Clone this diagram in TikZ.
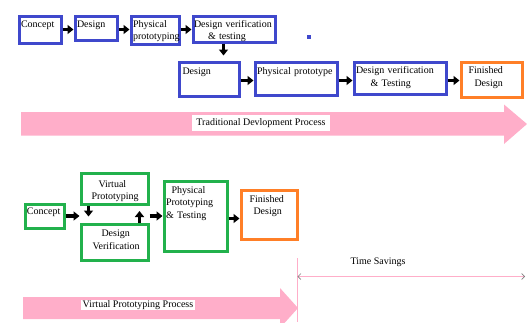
\documentclass[tikz,border=0pt]{standalone}
\usepackage{fontspec}
\setmainfont{Liberation Serif}
\usepackage{xcolor}
\usepackage{tikz}
\usetikzlibrary{arrows.meta, positioning}

\definecolor{boxblue}{RGB}{63,72,204}
\definecolor{boxgreen}{RGB}{34,177,76}
\definecolor{boxorange}{RGB}{255,127,39}
\definecolor{flowpink}{RGB}{255,174,201}

\begin{document}
\begin{tikzpicture}[
    x=1pt, y=-1pt,
    font=\fontsize{10}{12.5}\selectfont,
    block/.style={rectangle, draw, line width=3pt, anchor=north west, inner xsep=2pt, inner ysep=0pt, align=left, text height=12pt},
    tblock/.style={block, draw=boxblue},
    vblock/.style={block, draw=boxgreen},
    fblock/.style={block, draw=boxorange},
    arrow/.style={-{Triangle[length=6pt,width=9pt]}, line width=3.5pt},
    process/.style={fill=flowpink},
    banner/.style={fill=white, inner xsep=4pt, inner ysep=3pt}
]
\useasboundingbox (0,0) rectangle (527,322);
\clip (0,0) rectangle (527,322);

% Traditional process: first attempt
\node[tblock, text width=38pt, text height=11pt, text depth=16pt] (concept) at (17.5,14.5) {Concept};
\node[tblock, text width=38pt, text height=11pt, text depth=13pt] (design) at (73.5,14.5) {Design};
\node[tblock, text width=44pt, text height=11pt, text depth=17pt] (physproto) at (129.5,14.5) {Physical\\prototyping};
\node[tblock, inner xsep=1pt, text width=80pt, text height=11pt, text depth=15pt] (dvtop) at (191.5,14.5) {Design verification\\\hspace*{14pt}\& testing};
\node[fill=boxblue, minimum size=4pt, inner sep=0pt] (dot) at (309,37) {};

% Traditional process: redesign
\node[tblock, text width=56pt, text height=12.8pt, text depth=21.2pt] (design2) at (177.5,60.5) {\hspace*{1.5pt}Design};
\node[tblock, text width=78pt, text height=12pt, text depth=21pt] (physproto2) at (253.5,60.5) {Physical prototype};
\node[tblock, text width=88pt, text height=11.5pt, text depth=20.5pt] (dv2) at (352.5,60.5) {Design verification\\\hspace*{14.5pt}\& Testing};
\node[fblock, text width=57pt, text height=11.5pt, text depth=23.5pt] (fin2) at (459.5,60.5) {\hspace*{5.5pt}Finished\\\hspace*{11.5pt}Design};

% Virtual prototyping process
\node[vblock, text width=35pt, text height=10pt, text depth=14pt] (concept3) at (23.5,202.5) {Concept};
\node[vblock, text width=63pt, text height=14pt, text depth=17pt] (vp) at (79.5,171.5) {\hspace*{15.5pt}Virtual\\\hspace*{8.5pt}Prototyping};
\node[vblock, text width=63pt, text height=12.5pt, text depth=23.5pt] (dv3) at (79.5,222.5) {\hspace*{18.5pt}Design\\\hspace*{9.5pt}Verification};
\node[vblock, text width=59pt, text height=12.2pt, text depth=57.8pt] (ppt) at (162.5,179.5) {\hspace*{5.5pt}Physical\\Prototyping\\\& Testing};
\node[fblock, text width=52pt, text height=12.2pt, text depth=36.8pt] (fin3) at (239.5,188.5) {\hspace*{6.5pt}Finished\\\hspace*{10.5pt}Design};

% Arrows
\draw[arrow] (concept.east) -- (concept.east -| design.west);
\draw[arrow] (design.east |- concept.east) -- (physproto.west |- concept.east);
\draw[arrow] (physproto.east |- concept.east) -- (dvtop.west |- concept.east);
\draw[arrow, shorten >=5pt] ([xshift=-10.5pt]dvtop.south) -- ([xshift=-10.5pt]dvtop.south |- design2.north);

\coordinate (row2) at ([yshift=-1.5pt]design2.east);
\draw[arrow] (row2) -- (row2 -| physproto2.west);
\draw[arrow] (row2 -| physproto2.east) -- (row2 -| dv2.west);
\draw[arrow] (row2 -| dv2.east) -- (row2 -| fin2.west);

\draw[arrow] (concept3.east) -- (concept3.east -| vp.west);
\draw[arrow, shorten >=6pt] ([xshift=-26pt]vp.south) -- ([xshift=-26pt]dv3.north);
\draw[arrow, shorten >=5.5pt] ([xshift=25pt]dv3.north) -- ([xshift=25pt]vp.south);
\draw[arrow] (vp.east |- concept3.east) -- (ppt.west |- concept3.east);
\coordinate (row3) at ([yshift=-2.5pt]ppt.east);
\draw[arrow] (row3) -- (row3 -| fin3.west);

% Process bars
\fill[process] (21,112) -- (504,112) -- (504,104.5) -- (527,124) -- (504,144) -- (504,135.5) -- (21,135.5) -- cycle;
\node[banner] (tradlabel) at (261,123) {Traditional Devlopment Process};

\fill[process] (23,297) -- (280,297) -- (280,288) -- (298,308) -- (280,328) -- (280,319) -- (23,319) -- cycle;
\node[fill=white, inner xsep=1.5pt, inner ysep=0.5pt] (virtlabel) at (138,305) {Virtual Prototyping Process};

% Time savings
\coordinate (tstop) at (297.5,258);
\coordinate (tsbot) at (297.5,322);
\coordinate (tsl) at (297.5,276.5);
\coordinate (tsr) at (525,276.5);
\draw[flowpink, line width=1pt] (tstop) -- (tsbot);
\draw[flowpink, line width=1pt, {Straight Barb[color=gray,length=3pt,width=6pt,line width=0.6pt]}-{Straight Barb[color=gray,length=3pt,width=6pt,line width=0.6pt]}] (tsl) -- (tsr);
\node (tstext) at (378,262) {Time Savings};

\end{tikzpicture}
\end{document}
